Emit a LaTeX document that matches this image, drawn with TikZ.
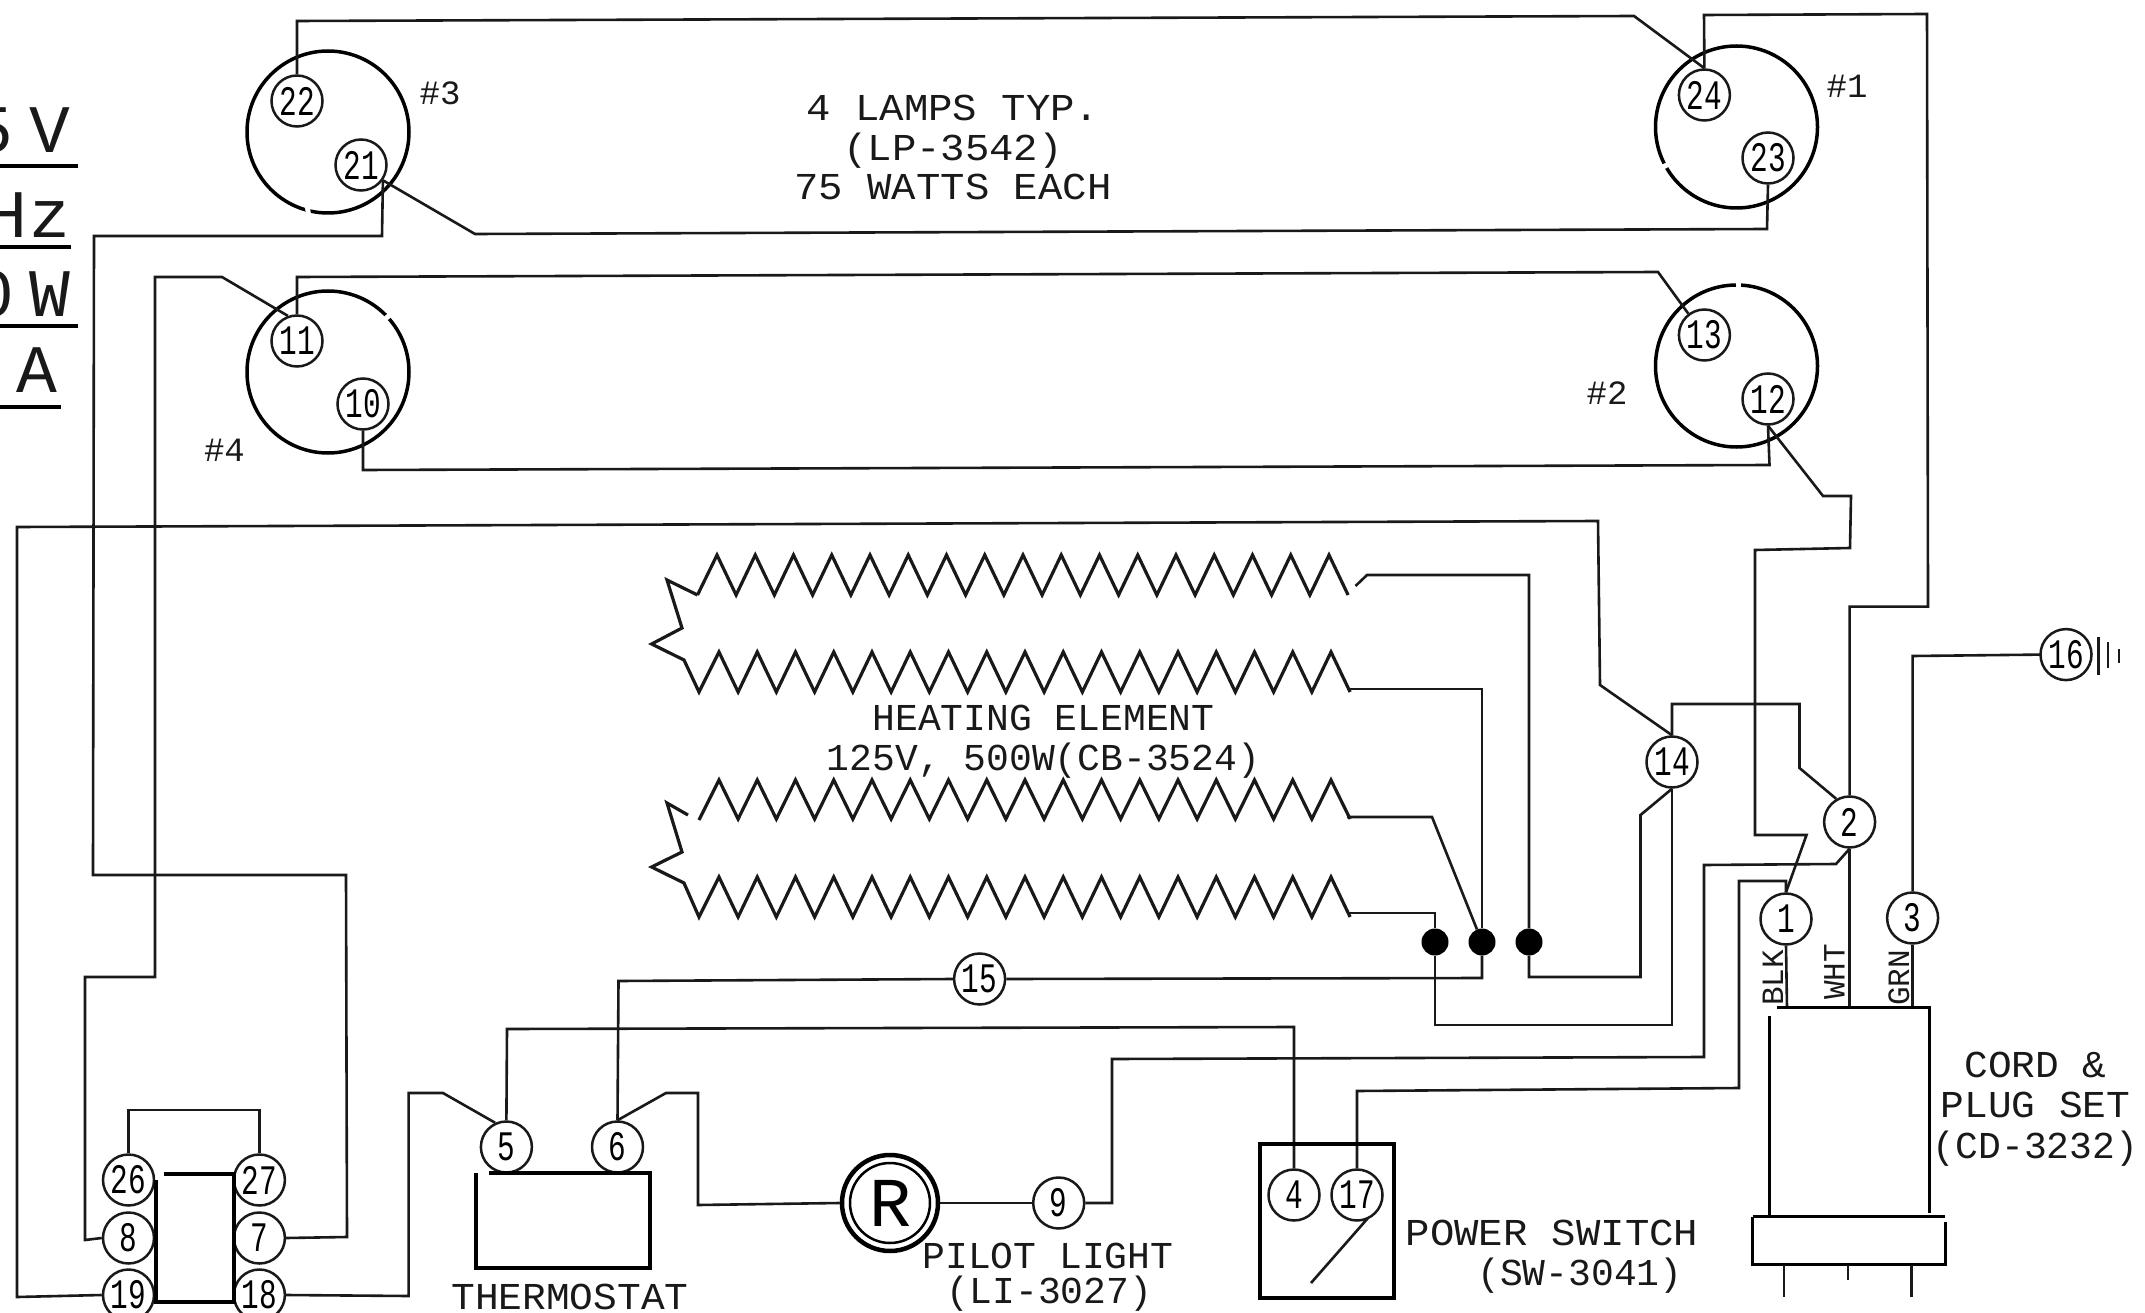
\documentclass[tikz,border=0pt]{standalone}
\usepackage{fontspec}
\newfontfamily\cad{Liberation Mono}
\newfontfamily\cadw[FakeStretch=1.07]{Liberation Mono}
\newfontfamily\cadm[FakeStretch=1.04]{Liberation Mono}
\newfontfamily\cadn[FakeStretch=0.7]{Liberation Mono}
\newcommand{\zigrun}[3]{foreach \i in {0,...,16} { -- ({#1+38.25*\i},#2) -- ({#1+19.1+38.25*\i},#3) }}
\tikzset{
  wire/.style={line width=2.6pt,line join=miter,line cap=butt,black!90},
  heavy/.style={line width=3.8pt,black},
  coil/.style={line width=3.2pt,line join=miter,black!90},
  term/.style={circle,draw=black!90,line width=2.5pt,fill=white,minimum size=51pt,inner sep=0pt,font=\cadn\fontsize{42}{42}\selectfont},
  lampc/.style={circle,draw=black,line width=3.5pt,minimum size=162pt,inner sep=0pt},
  dotn/.style={circle,fill=black,minimum size=27pt,inner sep=0pt},
  lab/.style={anchor=base,inner sep=0pt,black!90,font=\cad\fontsize{38}{38}\selectfont},
  labw/.style={lab,font=\cadw\fontsize{38}{38}\selectfont},
  labm/.style={lab,font=\cadm\fontsize{38}{38}\selectfont},
  tag/.style={anchor=center,inner sep=0pt,black!90,font=\cad\fontsize{34}{34}\selectfont},
  rot/.style={rotate=90,inner sep=0pt,black!90,font=\cad\fontsize{31}{31}\selectfont},
  big/.style={anchor=base east,inner sep=0pt,black!90,font=\cad\fontsize{68}{68}\selectfont},
  gapw/.style={white,line width=5pt}
}
\begin{document}
\begin{tikzpicture}[x=1pt,y=-1pt]
\useasboundingbox (0,0) rectangle (2145,1313);
\fill[white] (0,0) rectangle (2145,1313);
% lamps
\node[lampc] (L3) at (328,132) {};
\node[lampc] (L1) at (1736.5,127) {};
\node[lampc] (L4) at (328,372) {};
\node[lampc] (L2) at (1736.5,366) {};
\draw[gapw] (307,204) -- (309,218);
\draw[gapw] (1657.5,170) -- (1671.5,162.5);
\draw[gapw] (382,322) -- (393,312);
\draw[gapw] (1738.6,279) -- (1738.6,292);
% coordinates at the cord box
\coordinate (cblk) at (1787,1007.6);
\coordinate (cwht) at (1849.6,1007.6);
\coordinate (cgrn) at (1912.6,1007.6);
% terminals
\node[term] (n22) at (297,101) {22};
\node[term] (n21) at (361,165) {21};
\node[term] (n24) at (1704.4,95) {24};
\node[term] (n23) at (1768,158) {23};
\node[term] (n11) at (297,341) {11};
\node[term] (n10) at (363,404) {10};
\node[term] (n13) at (1704.4,335) {13};
\node[term] (n12) at (1768,399) {12};
\node[term] (n14) at (1672,762) {14};
\node[term] (n2) at (1849.6,822) {2};
\node[term] (n1) at (1786,919) {1};
\node[term] (n3) at (1912.6,918) {3};
\node[term] (n16) at (2066,654.6) {16};
\node[term] (n15) at (979.6,979) {15};
\node[term] (n5) at (506.4,1147) {5};
\node[term] (n6) at (617.5,1147) {6};
\node[term] (n4) at (1294,1195) {4};
\node[term] (n17) at (1357,1195) {17};
\node[term] (n9) at (1058.7,1203) {9};
\node[term] (n26) at (128.5,1180) {26};
\node[term] (n8) at (128.5,1238) {8};
\node[term] (n19) at (128.5,1295) {19};
\node[term] (n27) at (259.4,1180) {27};
\node[term] (n7) at (259.4,1238) {7};
\node[term] (n18) at (259.4,1295) {18};
\node[dotn] (d1) at (1435,942) {};
\node[dotn] (d2) at (1482,942) {};
\node[dotn] (d3) at (1529,942) {};
% pilot lamp
\node[circle,draw=black,line width=4.5pt,minimum size=96pt,inner sep=0pt] (pilot) at (890,1203) {};
\node[circle,draw=black,line width=2.5pt,minimum size=80pt,inner sep=0pt,font=\cad\fontsize{70}{70}\selectfont] (pilotin) at (890,1203) {R};
% wires
\draw[wire] (n22.north) -- (297,21) -- (1634,16) -- (n24.north);
\draw[wire] (n24.north) -- (1704,15) -- (1927,14) -- (1928,606.6) -- (1849.6,606.6) -- (n2.north);
\draw[wire] (n21.-35) -- (475,234) -- (1767,229) -- (n23.south);
\draw[wire] (n21.-35) -- (382,236) -- (94,236) -- (93,875) -- (346,875) -- (347,1237) -- (n7.east);
\draw[wire] (n11.north) -- (297,277) -- (1658,272) -- (n13.127);
\draw[wire] (n11.110) -- (222,277) -- (155,277) -- (155,977) -- (85,977) -- (85,1240) -- (n8.west);
\draw[wire] (n10.south) -- (363,470) -- (1769.5,465) -- (n12.south);
\draw[wire] (n12.south) -- (1823,496) -- (1851,496) -- (1850,548) -- (1755,550) -- (1755,835) -- (1806.5,835) -- (n1.north);
\draw[wire] (n1.north) -- (1786,881) -- (1739,881) -- (1739,1088) -- (1357,1091) -- (n17.north);
\draw[wire] (n1.south) -- (cblk);
\draw[wire] (n2.south) -- (cwht);
\draw[wire] (n3.south) -- (cgrn);
\draw[wire] (n3.north) -- (1912.6,656) -- (2041,654.6) -- (n16.west);
\draw[wire] (n2.120) -- (1799.5,768) -- (1799.5,704) -- (1672,704) -- (n14.north);
\draw[wire] (n14.north) -- (1600,685) -- (1598,521) -- (17,527) -- (17,1297) -- (n19.west);
\draw[wire] (n14.south) -- (1672,1025) -- (1435,1025) -- (d1);
\draw[wire] (n14.south) -- (1640.5,815) -- (1640.5,977) -- (1529,977) -- (d3);
\draw[wire] (d3) -- (1529,575) -- (1367,575) -- (1355.5,586);
\draw[wire] (d2) -- (1482,689) -- (1347,689);
\draw[wire] (d2) -- (1482,978) -- (n15.east);
\draw[wire] (n15.west) -- (618.5,981) -- (n6.north);
\draw[wire] (d2) -- (1432,817) -- (1347,817);
\draw[wire] (d1) -- (1435,913) -- (1347,913);
\draw[wire] (n5.north) -- (507,1029) -- (1294,1027) -- (n4.north);
\draw[wire] (n5.115) -- (443,1093) -- (408.6,1093) -- (408.6,1296) -- (n18.east);
\draw[wire] (n6.north) -- (666,1093) -- (698,1093) -- (698,1205) -- (pilot.west);
\draw[wire] (pilot.east) -- (n9.west);
\draw[wire] (n9.east) -- (1112,1203) -- (1112,1059) -- (1704,1057) -- (1704,865) -- (1836,864) -- (n2.south);
\draw[wire] (n26.north) -- (128.5,1110) -- (259.4,1110) -- (n27.north);
% coils
\draw[coil] (697.5,595) \zigrun{717}{555}{595};
\draw[coil] (697.5,595) -- (667,580) -- (682,628) -- (651.6,644) -- (684,660) -- (699,692) \zigrun{719}{652}{692};
\draw[coil] (699,820) \zigrun{719}{780}{819};
\draw[coil] (688,815) -- (667,803) -- (682,852) -- (651.6,867) -- (684,883) -- (699,917) \zigrun{719}{877}{917};
% central switch body
\draw[heavy] (164,1174) -- (234,1174) -- (234,1302) -- (156,1302) -- (156,1180);
% thermostat, switch, cord
\draw[heavy] (489,1173) -- (650,1173) -- (650,1268) -- (476,1268) -- (476,1173);
\draw[heavy] (1260,1144) rectangle (1394,1298);
\draw[wire] (1368,1218) -- (1311,1283);
\draw[heavy,line width=3pt] (1769,1016) -- (1769,1215) (1777,1007.6) -- (1929,1007.6) -- (1929,1213);
\draw[heavy,line width=3pt] (1752.6,1216.6) -- (1945,1216.6);
\draw[heavy,line width=3pt] (1945,1222) -- (1945,1264.6) -- (1752.6,1264.6) -- (1752.6,1216.6);
\draw[wire] (1784,1264.6) -- (1784,1297);
\draw[wire] (1848,1264.6) -- (1848,1280);
\draw[wire] (1911.6,1264.6) -- (1911.6,1297);
% ground
\draw[wire] (2098.5,637) -- (2098.5,675);
\draw[wire] (2108,642) -- (2108,668);
\draw[wire] (2119,649) -- (2119,663);
% labels
\node[labw] (t1) at (953,121) {4 LAMPS TYP.};
\node[labw] (t2) at (953,161) {(LP-3542)};
\node[labw] (t3) at (953,200) {75 WATTS EACH};
\node[lab] (t4) at (1043.5,730.5) {HEATING ELEMENT};
\node[lab] (t5) at (1043.5,770.5) {125V, 500W(CB-3524)};
\node[labm] (t6) at (2035.5,1077.5) {CORD \&};
\node[labm] (t7) at (2035.5,1117.5) {PLUG SET};
\node[lab] (t8) at (2035.5,1158.5) {(CD-3232)};
\node[labw] (t9) at (1552,1245) {POWER SWITCH};
\node[lab] (t10) at (1580,1285) {(SW-3041)};
\node[lab] (t11) at (1048,1268) {PILOT LIGHT};
\node[lab] (t12) at (1049.5,1303) {(LI-3027)};
\node[labm] (t13) at (570,1309) {THERMOSTAT};
\node[tag] (h3) at (440,93) {\#3};
\node[tag] (h4) at (224.5,450) {\#4};
\node[tag] (h1) at (1847,86) {\#1};
\node[tag] (h2) at (1607,393) {\#2};
\node[rot] (w1) at (1773,978) {BLK};
\node[rot] (w2) at (1834.5,972) {WHT};
\node[rot] (w3) at (1899,978) {GRN};
% ratings, cut by the left edge of the sheet
\begin{scope}
\clip (0,0) rectangle (2145,1313);
\node[big] (r1) at (71,153) {5\kern17pt V};
\node[big] (r2) at (71,238) {H\kern3pt z};
\node[big] (r3) at (71,317) {0\kern16pt W};
\node[big] (r4) at (58,393) {2\kern18pt A};
\end{scope}
\draw[heavy] (0,166) -- (78,166);
\draw[heavy] (0,247) -- (71,247);
\draw[heavy] (0,326) -- (78,326);
\draw[heavy] (0,407) -- (61,407);
\end{tikzpicture}
\end{document}
